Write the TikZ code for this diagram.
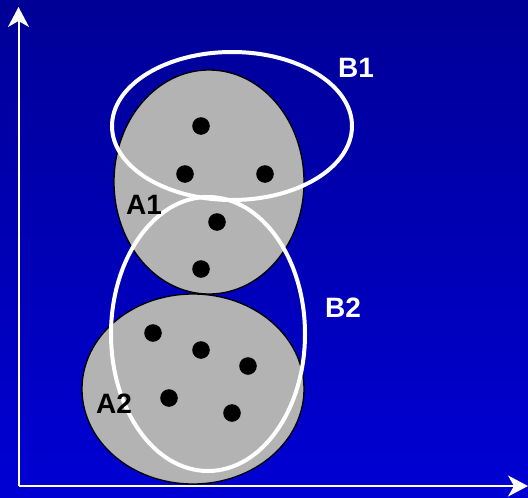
\documentclass[tikz,border=0pt]{standalone}
\usepackage{fontspec}
\setmainfont{Liberation Sans}
\usepackage{xcolor}
\usetikzlibrary{arrows.meta}

\definecolor{bgtop}{RGB}{0,0,150}
\definecolor{bgbottom}{RGB}{0,0,212}
\definecolor{setgray}{RGB}{179,179,179}

\begin{document}
\begin{tikzpicture}[
    x=1pt, y=-1pt,
    axis/.style={white, line width=2pt, -{Stealth[length=20pt, width=21pt, inset=6pt]}},
    clusterA/.style={draw=black, line width=1.3pt, fill=setgray},
    clusterB/.style={draw=white, line width=4pt},
    dot/.style={fill=black},
    lbl/.style={font=\fontsize{28}{31}\selectfont\bfseries, inner sep=0pt}
]
\useasboundingbox (0,0) rectangle (528,498);
\shade[top color=bgtop, bottom color=bgbottom] (0,0) rectangle (528,498);

% axes
\coordinate (orig) at (18.5,486);
\coordinate (ytip) at (18.5,7);
\coordinate (xtip) at (528,486);
\draw[axis] (orig) -- (ytip);
\draw[axis] (orig) -- (xtip);

% clusters A
\draw[clusterA] (209,182) ellipse (95 and 112);
\draw[clusterA] (193,389) ellipse (111 and 95);

% clusters B
\draw[clusterB] (232,126) ellipse (120 and 74);
\draw[clusterB] (208,334) ellipse (97 and 137);

% points
\foreach \px/\py in {201/126, 185/174, 265/174, 217/222, 201/269,
                     153/333, 201/350, 248/366, 169/398, 232/413}
  \fill[dot] (\px,\py) circle (8.8);

% labels
\node[lbl, white] (b1) at (356,68) {B1};
\node[lbl, white] (b2) at (343,308) {B2};
\node[lbl, black] (a1) at (144,205) {A1};
\node[lbl, black] (a2) at (114,404) {A2};
\end{tikzpicture}
\end{document}
